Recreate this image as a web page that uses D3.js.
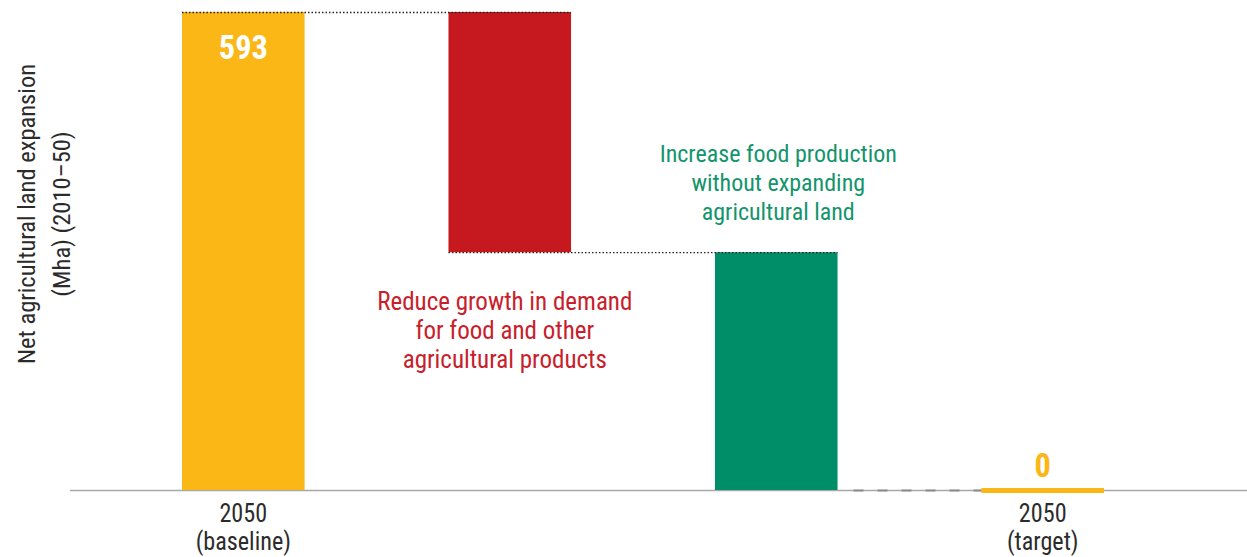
<!DOCTYPE html>
<html>
<head>
<meta charset="utf-8">
<script src="https://cdn.jsdelivr.net/npm/d3@7"></script>
<style>
  html, body { margin: 0; padding: 0; background: #fff; }
  svg { display: block; font-family: "Roboto Condensed", Roboto, "Liberation Sans Narrow", sans-serif; }
</style>
</head>
<body>
<svg id="chart" width="1247" height="557"></svg>
<script>
// Waterfall steps (Mha of net agricultural land expansion, 2010–50)
const categories = ["baseline", "demand", "production", "target"];
const stepValues = [593, -298, -295, 0];
const stepKinds = ["total", "delta", "delta", "total"];
const tickLines = [["2050", "(baseline)"], null, null, ["2050", "(target)"]];
const valueLabels = ["593", null, null, "0"];
const annotations = [
  null,
  ["Reduce growth in demand", "for food and other", "agricultural products"],
  ["Increase food production", "without expanding", "agricultural land"],
  null
];
const yTitle = ["Net agricultural land expansion", "(Mha) (2010–50)"];

const colors = ["#FBB715", "#C5181F", "#008E68", "#FBB715"];
const annoColors = [null, "#C8202B", "#13946C", null];

const W = 1247, H = 557;
const svg = d3.select("#chart");

const x = d3.scaleBand().domain(categories).range([182, 1104]).paddingInner(0.54).paddingOuter(0);
const y = d3.scaleLinear().domain([0, 593]).range([490, 12]);

// cumulative start / end for each step
let run = 0;
const bars = categories.map((c, i) => {
  let start, end;
  if (stepKinds[i] === "total") { start = 0; end = stepValues[i]; run = stepValues[i]; }
  else { start = run; end = run + stepValues[i]; run = end; }
  return { c, i, start, end, lo: Math.min(start, end), hi: Math.max(start, end) };
});

// baseline
svg.append("line")
  .attr("x1", 70).attr("x2", W)
  .attr("y1", y(0) + 0.5).attr("y2", y(0) + 0.5)
  .attr("stroke", "#a8a8a8").attr("stroke-width", 1.5);

// bars (a zero total is drawn as a thin strip on the baseline)
svg.append("g").selectAll("rect").data(bars).join("rect")
  .attr("x", d => x(d.c))
  .attr("width", x.bandwidth())
  .attr("y", d => d.hi === d.lo ? y(0) - 2 : y(d.hi))
  .attr("height", d => d.hi === d.lo ? 5 : y(d.lo) - y(d.hi))
  .attr("fill", d => colors[d.i]);

// dotted connectors between floating steps
const connectors = [
  { from: 0, to: 1, v: bars[0].end },
  { from: 1, to: 2, v: bars[1].end }
];
svg.append("g").selectAll("line").data(connectors).join("line")
  .attr("x1", d => x(categories[d.from]))
  .attr("x2", d => x(categories[d.to]) + x.bandwidth())
  .attr("y1", d => y(d.v) + 0.5)
  .attr("y2", d => y(d.v) + 0.5)
  .attr("stroke", "#222")
  .attr("stroke-width", 1.3)
  .attr("stroke-dasharray", "1.5,2");

// dashed link from the last step to the target along the baseline
svg.append("line")
  .attr("x1", x(categories[2]) + x.bandwidth() + 2)
  .attr("x2", x(categories[3]))
  .attr("y1", y(0) + 0.5).attr("y2", y(0) + 0.5)
  .attr("stroke", "#8c8c8c").attr("stroke-width", 2)
  .attr("stroke-dasharray", "10,14")
  .attr("stroke-dashoffset", 10);

// helper for condensed multi-line text
function textBlock(lines, cx, y0, lh, size, sx, color, weight) {
  const t = svg.append("g").attr("transform", `translate(${cx},${y0}) scale(${sx},1)`)
    .append("text")
    .attr("text-anchor", "middle")
    .attr("font-size", size)
    .attr("font-weight", weight || 400)
    .attr("fill", color);
  lines.forEach((l, k) => t.append("tspan").attr("x", 0).attr("y", k * lh).text(l));
}

const cx = c => x(c) + x.bandwidth() / 2;

// value labels
textBlock([valueLabels[0]], cx(categories[0]), 59, 0, 33, 0.98, "#fff", 700);
textBlock([valueLabels[3]], cx(categories[3]), 477, 0, 33, 0.98, "#FBB715", 700);

// step annotations
textBlock(annotations[1], cx(categories[1]) - 5, 310, 29, 25, 1.0, annoColors[1]);
textBlock(annotations[2], cx(categories[2]) + 2, 162, 29, 24.5, 0.98, annoColors[2]);

// x axis tick labels
const axis = d3.axisBottom(x).tickSize(0).tickFormat("");
const ax = svg.append("g").attr("transform", `translate(0,${y(0)})`).call(axis);
ax.select(".domain").remove();
bars.forEach(d => {
  if (tickLines[d.i]) textBlock(tickLines[d.i], cx(d.c), 522, 28, 26, 0.93, "#2b2b2b");
});

// y title
const yt = svg.append("g").attr("transform", "translate(35,214) rotate(-90)")
  .append("text").attr("text-anchor", "middle").attr("font-size", 24.5).attr("fill", "#2b2b2b");
yTitle.forEach((l, k) => yt.append("tspan").attr("x", 0).attr("y", k * 35).text(l));
</script>
</body>
</html>
